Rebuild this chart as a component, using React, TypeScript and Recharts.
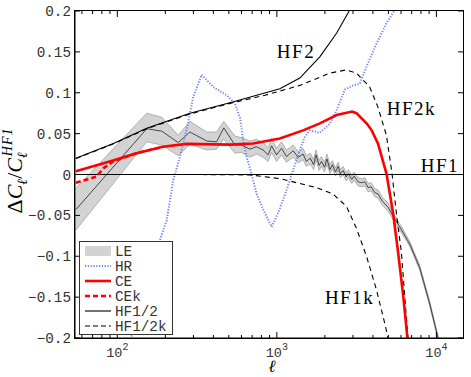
import React from 'react';
import { ComposedChart, Line, Area, XAxis, YAxis, Legend, ReferenceDot } from 'recharts';

// LE mean with its band
const leData = [
  { l: 55, m: -0.043, lo: -0.068, hi: -0.017 },
  { l: 153, m: 0.056, lo: 0.040, hi: 0.075 },
  { l: 190, m: 0.053, lo: 0.036, hi: 0.070 },
  { l: 241, m: 0.039, lo: 0.023, hi: 0.048 },
  { l: 285, m: 0.052, lo: 0.037, hi: 0.065 },
  { l: 363, m: 0.041, lo: 0.030, hi: 0.052 },
  { l: 419, m: 0.040, lo: 0.031, hi: 0.052 },
  { l: 465, m: 0.057, lo: 0.043, hi: 0.065 },
  { l: 546, m: 0.036, lo: 0.026, hi: 0.047 },
  { l: 600, m: 0.036, lo: 0.027, hi: 0.045 },
  { l: 678, m: 0.031, lo: 0.021, hi: 0.041 },
  { l: 745, m: 0.034, lo: 0.025, hi: 0.043 },
  { l: 820, m: 0.030, lo: 0.021, hi: 0.039 },
  { l: 882, m: 0.024, lo: 0.016, hi: 0.033 },
  { l: 927, m: 0.035, lo: 0.027, hi: 0.044 },
  { l: 996, m: 0.024, lo: 0.016, hi: 0.032 },
  { l: 1070, m: 0.032, lo: 0.024, hi: 0.040 },
  { l: 1150, m: 0.022, lo: 0.015, hi: 0.030 },
  { l: 1266, m: 0.029, lo: 0.021, hi: 0.036 },
  { l: 1359, m: 0.021, lo: 0.014, hi: 0.028 },
  { l: 1460, m: 0.025, lo: 0.018, hi: 0.032 },
  { l: 1530, m: 0.016, lo: 0.010, hi: 0.023 },
  { l: 1620, m: 0.020, lo: 0.013, hi: 0.026 },
  { l: 1700, m: 0.012, lo: 0.006, hi: 0.018 },
  { l: 1760, m: 0.024, lo: 0.018, hi: 0.030 },
  { l: 1840, m: 0.011, lo: 0.005, hi: 0.017 },
  { l: 1905, m: 0.016, lo: 0.010, hi: 0.022 },
  { l: 1990, m: 0.009, lo: 0.003, hi: 0.015 },
  { l: 2060, m: 0.019, lo: 0.013, hi: 0.025 },
  { l: 2150, m: 0.006, lo: 0.001, hi: 0.012 },
  { l: 2230, m: 0.012, lo: 0.007, hi: 0.017 },
  { l: 2330, m: 0.003, lo: -0.002, hi: 0.008 },
  { l: 2420, m: 0.010, lo: 0.005, hi: 0.015 },
  { l: 2500, m: 0.001, lo: -0.004, hi: 0.006 },
  { l: 2600, m: 0.005, lo: 0.000, hi: 0.010 },
  { l: 2720, m: -0.003, lo: -0.008, hi: 0.002 },
  { l: 2800, m: 0.001, lo: -0.004, hi: 0.006 },
  { l: 2950, m: -0.006, lo: -0.011, hi: -0.001 },
  { l: 3050, m: -0.002, lo: -0.007, hi: 0.003 },
  { l: 3230, m: -0.009, lo: -0.014, hi: -0.004 },
  { l: 3400, m: -0.010, lo: -0.015, hi: -0.005 },
  { l: 3560, m: -0.009, lo: -0.014, hi: -0.004 },
  { l: 3730, m: -0.016, lo: -0.021, hi: -0.011 },
  { l: 3900, m: -0.015, lo: -0.020, hi: -0.010 },
  { l: 4100, m: -0.022, lo: -0.027, hi: -0.017 },
  { l: 4310, m: -0.024, lo: -0.029, hi: -0.019 },
  { l: 4600, m: -0.033, lo: -0.038, hi: -0.028 },
  { l: 4980, m: -0.040, lo: -0.045, hi: -0.035 },
  { l: 5350, m: -0.051, lo: -0.055, hi: -0.047 },
  { l: 5890, m: -0.064, lo: -0.068, hi: -0.060 },
  { l: 6810, m: -0.085, lo: -0.088, hi: -0.082 },
  { l: 7860, m: -0.114, lo: -0.117, hi: -0.111 },
  { l: 9080, m: -0.158, lo: -0.161, hi: -0.155 },
  { l: 10240, m: -0.200, lo: -0.203, hi: -0.197 },
  { l: 10700, m: -0.220, lo: -0.223, hi: -0.217 },
];

const hrData = [
  { l: 118, v: -0.215 }, { l: 123, v: -0.196 }, { l: 185, v: -0.080 }, { l: 204, v: -0.056 },
  { l: 224, v: -0.007 }, { l: 247, v: 0.022 }, { l: 272, v: 0.055 }, { l: 299, v: 0.095 },
  { l: 338, v: 0.122 }, { l: 399, v: 0.107 }, { l: 484, v: 0.097 }, { l: 546, v: 0.087 },
  { l: 588, v: 0.069 }, { l: 615, v: 0.042 }, { l: 646, v: 0.022 }, { l: 695, v: 0.0 },
  { l: 745, v: -0.023 }, { l: 821, v: -0.043 }, { l: 927, v: -0.064 }, { l: 1019, v: -0.047 },
  { l: 1150, v: -0.019 }, { l: 1266, v: 0.0055 }, { l: 1393, v: 0.030 }, { l: 1497, v: 0.046 },
  { l: 1610, v: 0.054 }, { l: 1860, v: 0.051 }, { l: 2148, v: 0.062 }, { l: 2372, v: 0.079 },
  { l: 2667, v: 0.104 }, { l: 3004, v: 0.109 }, { l: 3310, v: 0.111 }, { l: 3646, v: 0.132 },
  { l: 4210, v: 0.160 }, { l: 4860, v: 0.185 }, { l: 5480, v: 0.201 }, { l: 5700, v: 0.21 },
];

const ceData = [
  { l: 55, v: 0.004 }, { l: 94, v: 0.017 }, { l: 132, v: 0.026 }, { l: 193, v: 0.034 },
  { l: 272, v: 0.0375 }, { l: 508, v: 0.0365 }, { l: 710, v: 0.038 }, { l: 1044, v: 0.044 },
  { l: 1460, v: 0.054 }, { l: 1860, v: 0.0626 }, { l: 2370, v: 0.0728 }, { l: 2960, v: 0.077 },
  { l: 3155, v: 0.075 }, { l: 3650, v: 0.0626 }, { l: 3930, v: 0.054 }, { l: 4300, v: 0.038 },
  { l: 4860, v: 0.0015 }, { l: 5350, v: -0.047 }, { l: 5760, v: -0.096 }, { l: 6200, v: -0.149 },
  { l: 6580, v: -0.2 }, { l: 6700, v: -0.215 },
];

const cekData = [
  { l: 55, v: -0.010 }, { l: 74, v: -0.0027 }, { l: 82, v: 0.0076 }, { l: 94, v: 0.016 },
  { l: 132, v: 0.026 }, { l: 193, v: 0.034 },
];

const hf1Data = [{ l: 50, v: 0 }, { l: 16000, v: 0 }];

const hf1kData = [
  { l: 55, v: 0 }, { l: 300, v: 0 }, { l: 678, v: -0.0005 }, { l: 1044, v: -0.005 },
  { l: 1393, v: -0.011 }, { l: 1774, v: -0.016 }, { l: 2253, v: -0.024 }, { l: 2731, v: -0.039 },
  { l: 3155, v: -0.066 }, { l: 3646, v: -0.1 }, { l: 4210, v: -0.141 }, { l: 4745, v: -0.182 },
  { l: 4980, v: -0.2 }, { l: 5100, v: -0.21 },
];

const hf2Data = [
  { l: 55, v: 0.0198 }, { l: 94.5, v: 0.038 }, { l: 153, v: 0.0565 }, { l: 285, v: 0.0749 },
  { l: 508, v: 0.0878 }, { l: 1044, v: 0.105 }, { l: 1393, v: 0.118 }, { l: 1859, v: 0.144 },
  { l: 2372, v: 0.173 }, { l: 2820, v: 0.199 }, { l: 3100, v: 0.215 },
];

const hf2kData = [
  { l: 55, v: 0.0195 }, { l: 94.5, v: 0.0375 }, { l: 153, v: 0.056 }, { l: 285, v: 0.074 },
  { l: 508, v: 0.087 }, { l: 843, v: 0.097 }, { l: 1393, v: 0.109 }, { l: 2150, v: 0.124 },
  { l: 2730, v: 0.128 }, { l: 3155, v: 0.124 }, { l: 3820, v: 0.107 }, { l: 4290, v: 0.083 },
  { l: 4860, v: 0.048 }, { l: 5280, v: 0 }, { l: 5610, v: -0.047 }, { l: 6040, v: -0.096 },
  { l: 6330, v: -0.149 }, { l: 6640, v: -0.2 }, { l: 6800, v: -0.22 },
];

const xTicks = [60, 70, 80, 90, 100, 200, 300, 400, 500, 600, 700, 800, 900, 1000,
  2000, 3000, 4000, 5000, 6000, 7000, 8000, 9000, 10000];
const yTicks = [-0.2, -0.15, -0.1, -0.05, 0, 0.05, 0.1, 0.15, 0.2];

const annotations = [
  { text: 'HF2', l: 1000, v: 0.1425 },
  { text: 'HF2k', l: 4885, v: 0.0728 },
  { text: 'HF1', l: 7975, v: 0.003 },
  { text: 'HF1k', l: 2000, v: -0.1584 },
];

const legendItems = ['LE', 'HR', 'CE', 'CEk', 'HF1/2', 'HF1/2k'];

const X_DOMAIN: [number, number] = [54.3, 14680];
const Y_DOMAIN: [number, number] = [-0.2, 0.2];

const W = 471;
const H = 377;
const MARGIN = { top: 11, right: 8, bottom: 0, left: 0 };
const Y_AXIS_W = 75;
const X_AXIS_H = 39;
const PLOT_W = W - MARGIN.right - MARGIN.left - Y_AXIS_W;
const PLOT_H = H - MARGIN.top - MARGIN.bottom - X_AXIS_H;

const MONO = '"Liberation Mono", "DejaVu Sans Mono", monospace';
const SERIF = '"Liberation Serif", "DejaVu Serif", serif';
const BLUE = '#6d85f2';
const RED = '#ff0000';
const TXT = '#333';

const isMajor = (v: number) => Math.abs(Math.log10(v) - Math.round(Math.log10(v))) < 1e-6;

// bottom tick + mirrored tick on the top side of the frame
const XTick = (props: any) => {
  const { x, y, payload } = props;
  const v = payload.value;
  const major = isMajor(v);
  const len = major ? 6 : 3;
  return (
    <g>
      <line x1={x} x2={x} y1={y} y2={y - len} stroke="#000" strokeWidth={1} />
      <line x1={x} x2={x} y1={y - PLOT_H} y2={y - PLOT_H + len} stroke="#000" strokeWidth={1} />
      {major && (
        <text x={x} y={y + 19} textAnchor="middle" fontFamily={MONO} fontSize={13.5} fill={TXT}>
          10<tspan dy={-7} fontSize={10}>{Math.round(Math.log10(v))}</tspan>
        </text>
      )}
    </g>
  );
};

// left tick + mirrored tick on the right side of the frame
const YTick = (props: any) => {
  const { x, y, payload } = props;
  const v = payload.value;
  const label = v === 0 ? '0' : String(v).replace('-', '\u2212');
  return (
    <g>
      <line x1={x} x2={x + 5} y1={y} y2={y} stroke="#000" strokeWidth={1} />
      <line x1={x + PLOT_W} x2={x + PLOT_W - 5} y1={y} y2={y} stroke="#000" strokeWidth={1} />
      <text x={x - 4} y={y + 5} textAnchor="end" fontFamily={MONO} fontSize={14.3} fill={TXT}>
        {label}
      </text>
    </g>
  );
};

const YLabel = (props: any) => {
  const vb = props.viewBox;
  const cx = vb.x + 22;
  const cy = vb.y + vb.height / 2 - 4;
  return (
    <text transform={`rotate(-90, ${cx}, ${cy})`} x={cx} y={cy} textAnchor="middle"
      fontFamily={SERIF} fontSize={22} fill="#000">
      <tspan>Δ</tspan>
      <tspan fontStyle="italic">C</tspan>
      <tspan fontStyle="italic" fontSize={14} dy={5}>ℓ</tspan>
      <tspan dy={-5}>/</tspan>
      <tspan fontStyle="italic">C</tspan>
      <tspan fontStyle="italic" fontSize={14} dy={5}>ℓ</tspan>
      <tspan fontStyle="italic" fontSize={14} dx={-4} dy={-15} letterSpacing={1}>HF1</tspan>
    </text>
  );
};

const XLabel = (props: any) => {
  const vb = props.viewBox;
  return (
    <text x={vb.x + vb.width / 2 + 3} y={vb.y + 34} textAnchor="middle" fontFamily={SERIF}
      fontStyle="italic" fontSize={17} fill="#000">ℓ</text>
  );
};

const legendSymbol = (name: string) => {
  switch (name) {
    case 'LE': return <rect x={6} y={-5} width={26} height={10} fill="#d3d3d3" />;
    case 'HR': return <line x1={6} x2={32} y1={0} y2={0} stroke={BLUE} strokeWidth={2} strokeDasharray="1.2 1.6" />;
    case 'CE': return <line x1={6} x2={32} y1={0} y2={0} stroke={RED} strokeWidth={2.6} />;
    case 'CEk': return <line x1={6} x2={32} y1={0} y2={0} stroke={RED} strokeWidth={2.6} strokeDasharray="5 3" />;
    case 'HF1/2': return <line x1={6} x2={32} y1={0} y2={0} stroke="#000" strokeWidth={1.1} />;
    default: return <line x1={6} x2={32} y1={0} y2={0} stroke="#000" strokeWidth={1.1} strokeDasharray="5 3" />;
  }
};

const LegendBox = () => (
  <svg width={94} height={94} style={{ display: 'block' }}>
    <rect x={0.5} y={0.5} width={93} height={93} fill="#fff" stroke="#333" />
    {legendItems.map((name, i) => (
      <g key={name} transform={`translate(0, ${10 + i * 15})`}>
        {legendSymbol(name)}
        <text x={36} y={5} fontFamily={MONO} fontSize={14.3} fill={TXT}>{name}</text>
      </g>
    ))}
  </svg>
);

const AnnText = (text: string) => (p: any) => (
  <text x={p.cx} y={p.cy} fontFamily={SERIF} fontSize={19} letterSpacing={1.5} fill="#000">{text}</text>
);

export default function App() {
  return (
    <div style={{ position: 'absolute', left: 0, top: 0, width: W, height: H, background: '#fff' }}>
      <ComposedChart width={W} height={H} data={leData} margin={MARGIN}>
        <XAxis dataKey="l" type="number" scale="log" domain={X_DOMAIN} allowDataOverflow ticks={xTicks}
          interval={0} height={X_AXIS_H} tickSize={0} tickMargin={0} stroke="#000"
          tick={(p: any) => <XTick {...p} />} label={XLabel} />
        <YAxis type="number" domain={Y_DOMAIN} allowDataOverflow ticks={yTicks} interval={0}
          width={Y_AXIS_W} tickSize={0} tickMargin={0} stroke="#000"
          tick={(p: any) => <YTick {...p} />} label={YLabel} />
        <Legend layout="vertical" align="center" verticalAlign="middle"
          wrapperStyle={{ left: 79, top: 241, width: 94, height: 94 }} content={() => <LegendBox />} />
        <Area dataKey={(d: any) => [d.lo, d.hi]} type="linear" fill="#d3d3d3" fillOpacity={1}
          stroke="#9a9a9a" strokeWidth={0.7} isAnimationActive={false} />
        <Line dataKey="m" type="linear" stroke="#222" strokeWidth={0.8} dot={false} isAnimationActive={false} />
        <Line data={hrData} dataKey="v" type="linear" stroke={BLUE} strokeWidth={2}
          strokeDasharray="1.2 1.6" dot={false} isAnimationActive={false} />
        <Line data={hf1Data} dataKey="v" type="linear" stroke="#000" strokeWidth={1.1} dot={false} isAnimationActive={false} />
        <Line data={hf1kData} dataKey="v" type="linear" stroke="#000" strokeWidth={1.1}
          strokeDasharray="5 4" dot={false} isAnimationActive={false} />
        <Line data={hf2Data} dataKey="v" type="linear" stroke="#000" strokeWidth={1.1} dot={false} isAnimationActive={false} />
        <Line data={hf2kData} dataKey="v" type="linear" stroke="#000" strokeWidth={1.1}
          strokeDasharray="5 4" dot={false} isAnimationActive={false} />
        <Line data={cekData} dataKey="v" type="linear" stroke={RED} strokeWidth={2.6}
          strokeDasharray="5 3" dot={false} isAnimationActive={false} />
        <Line data={ceData} dataKey="v" type="linear" stroke={RED} strokeWidth={2.6} dot={false} isAnimationActive={false} />
        {annotations.map((a) => (
          <ReferenceDot key={a.text} x={a.l} y={a.v} r={0} shape={AnnText(a.text)} />
        ))}
      </ComposedChart>
      {/* plot frame */}
      <div style={{
        position: 'absolute', left: MARGIN.left + Y_AXIS_W - 1, top: MARGIN.top - 1,
        width: PLOT_W + 2, height: PLOT_H + 2, border: '1px solid #000', boxSizing: 'border-box',
        pointerEvents: 'none',
      }} />
    </div>
  );
}
